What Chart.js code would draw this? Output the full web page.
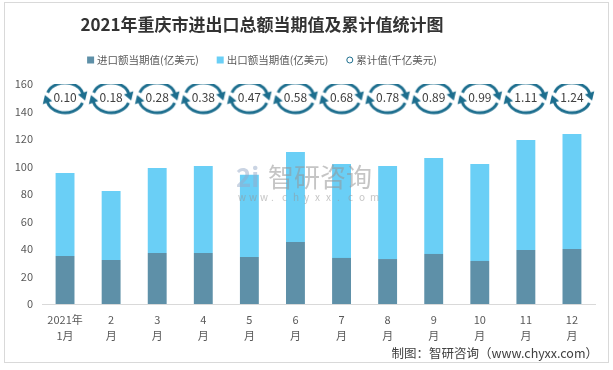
<!DOCTYPE html>
<html>
<head>
<meta charset="utf-8">
<script src="https://cdn.jsdelivr.net/npm/chart.js@4/dist/chart.umd.min.js"></script>
<style>
  html, body { margin: 0; padding: 0; background: #fff; }
  #wrap { width: 613px; height: 370px; }
</style>
</head>
<body>
<div id="wrap"><canvas id="chart" width="613" height="370"></canvas></div>
<script>
var months     = [['2021年', '1月'], ['2', '月'], ['3', '月'], ['4', '月'], ['5', '月'], ['6', '月'],
                  ['7', '月'], ['8', '月'], ['9', '月'], ['10', '月'], ['11', '月'], ['12', '月']];
var importVals = [34.9, 32.0, 37.1, 37.1, 34.2, 45.1, 33.5, 32.7, 36.4, 31.3, 39.3, 40.0];
var exportVals = [60.4, 50.2, 61.8, 63.3, 59.8, 65.4, 68.3, 67.7, 69.8, 70.5, 80.0, 83.6];
var cumulative = [0.10, 0.18, 0.28, 0.38, 0.47, 0.58, 0.68, 0.78, 0.89, 0.99, 1.11, 1.24];
var ringLevel  = 150; // the cumulative rings sit in a row above the bars
var yMin = 0, yMax = 160, yStep = 20;

var seriesNames = ['进口额当期值(亿美元)', '出口额当期值(亿美元)', '累计值(千亿美元)'];
var titleText   = '2021年重庆市进出口总额当期值及累计值统计图';
var sourceText  = '制图：智研咨询（www.chyxx.com）';

var FONT       = '"Noto Sans CJK SC", "Noto Sans", sans-serif';
var importCol  = '#5e90a8';
var exportCol  = '#6acff6';
var ringCol    = '#1d6e8e';
var textCol    = '#595959';

// the circular-arrow marker used for every cumulative point
function makeRing() {
  var c = document.createElement('canvas');
  c.width = 48; c.height = 38;
  var g = c.getContext('2d');
  var cx = 24, cy = 19, rx = 18.5, ry = 15, d = Math.PI / 180;
  g.strokeStyle = g.fillStyle = ringCol;
  g.lineWidth = 3;

  function arrowArc(a0, a1) {
    g.beginPath();
    g.ellipse(cx, cy, rx, ry, 0, a0, a1);
    g.stroke();
    var px = cx + rx * Math.cos(a1), py = cy + ry * Math.sin(a1);
    var tx = -rx * Math.sin(a1), ty = ry * Math.cos(a1);
    var len = Math.sqrt(tx * tx + ty * ty);
    tx /= len; ty /= len;
    var nx = -ty, ny = tx;
    g.beginPath();
    g.moveTo(px + tx * 7, py + ty * 7);
    g.lineTo(px + nx * 5 - tx, py + ny * 5 - ty);
    g.lineTo(px - nx * 5 - tx, py - ny * 5 - ty);
    g.closePath();
    g.fill();
  }
  arrowArc(200 * d, 345 * d);
  arrowArc(20 * d, 165 * d);
  return c;
}
var ring = makeRing();

var frame = {
  id: 'frame',
  beforeDraw: function(chart) {
    var ctx = chart.ctx;
    ctx.save();
    ctx.fillStyle = '#fff';
    ctx.fillRect(0, 0, chart.width, chart.height);
    ctx.strokeStyle = '#d9d9d9';
    ctx.lineWidth = 1;
    ctx.strokeRect(4.5, 2.5, 604, 360);
    ctx.restore();
  }
};

var watermark = {
  id: 'watermark',
  afterDatasetsDraw: function(chart) {
    var ctx = chart.ctx;
    ctx.save();
    ctx.fillStyle = 'rgba(150, 170, 200, 0.5)';
    ctx.font = 'bold 26px ' + FONT;
    ctx.textBaseline = 'middle';
    ctx.fillText('2i', 236, 177);
    ctx.fillStyle = 'rgba(150, 150, 150, 0.55)';
    ctx.font = '26px ' + FONT;
    ctx.fillText('智研咨询', 268, 177);
    ctx.font = '10px ' + FONT;
    var url = 'www.chyxx.com'.split('');
    for (var i = 0; i < url.length; i++) {
      ctx.fillText(url[i], 238 + i * 11, 197);
    }
    ctx.restore();
  }
};

var ringLabels = {
  id: 'ringLabels',
  afterDatasetsDraw: function(chart) {
    var ctx = chart.ctx;
    var meta = chart.getDatasetMeta(2);
    ctx.save();
    ctx.fillStyle = '#404040';
    ctx.font = '12px ' + FONT;
    ctx.textAlign = 'center';
    ctx.textBaseline = 'middle';
    meta.data.forEach(function(pt, i) {
      ctx.fillText(cumulative[i].toFixed(2), pt.x, pt.y);
    });
    ctx.restore();
  }
};

var headings = {
  id: 'headings',
  afterDraw: function(chart) {
    var ctx = chart.ctx;
    ctx.save();
    ctx.textBaseline = 'middle';

    ctx.fillStyle = '#333';
    ctx.font = 'bold 17px ' + FONT;
    ctx.textAlign = 'center';
    ctx.fillText(titleText, 262, 25);

    // legend, centred under the title
    ctx.font = '10.5px ' + FONT;
    ctx.textAlign = 'left';
    var gap = 18, box = 7, pad = 3;
    var widths = seriesNames.map(function(s) { return ctx.measureText(s).width; });
    var total = widths.reduce(function(a, b) { return a + b; }, 0) + 3 * (box + pad) + 2 * gap;
    var x = 262 - total / 2, y = 60;
    chart.data.datasets.forEach(function(ds, i) {
      if (i < 2) {
        ctx.fillStyle = ds.backgroundColor;
        ctx.fillRect(x, y - 3.5, box, box);
      } else {
        ctx.strokeStyle = ringCol;
        ctx.lineWidth = 1;
        ctx.beginPath();
        ctx.arc(x + 3.5, y, 3, 0, Math.PI * 2);
        ctx.stroke();
      }
      ctx.fillStyle = textCol;
      ctx.fillText(seriesNames[i], x + box + pad, y);
      x += box + pad + widths[i] + gap;
    });

    ctx.fillStyle = '#404040';
    ctx.font = '12.5px ' + FONT;
    ctx.textAlign = 'right';
    ctx.fillText(sourceText, 598, 353);
    ctx.restore();
  }
};

new Chart(document.getElementById('chart'), {
  data: {
    labels: months,
    datasets: [
      {
        type: 'bar',
        label: seriesNames[0],
        data: importVals,
        backgroundColor: importCol,
        stack: 'trade',
        order: 2
      },
      {
        type: 'bar',
        label: seriesNames[1],
        data: exportVals,
        backgroundColor: exportCol,
        stack: 'trade',
        order: 2
      },
      {
        type: 'line',
        label: seriesNames[2],
        data: cumulative.map(function() { return ringLevel; }),
        stack: 'ring',
        showLine: false,
        pointStyle: ring,
        order: 1
      }
    ]
  },
  options: {
    responsive: false,
    animation: false,
    devicePixelRatio: 1,
    layout: { padding: { left: 12, right: 18, top: 84, bottom: 0 } },
    datasets: {
      bar: { barPercentage: 0.41, categoryPercentage: 1 }
    },
    plugins: {
      legend: { display: false },
      title: { display: false },
      tooltip: { enabled: false }
    },
    scales: {
      x: {
        stacked: true,
        grid: { display: false, drawTicks: false },
        border: { display: true, color: '#d9d9d9', width: 1 },
        ticks: {
          color: textCol,
          padding: 8,
          maxRotation: 0,
          autoSkip: false,
          font: { family: FONT, size: 11, lineHeight: 1.45 }
        },
        afterFit: function(s) { s.height = 66; }
      },
      y: {
        stacked: true,
        min: yMin,
        max: yMax,
        grid: { display: false, drawTicks: false },
        border: { display: false },
        ticks: {
          stepSize: yStep,
          color: textCol,
          padding: 9,
          font: { family: FONT, size: 11 }
        },
        afterFit: function(s) { s.width = 30; }
      }
    }
  },
  plugins: [frame, watermark, ringLabels, headings]
});
</script>
</body>
</html>
